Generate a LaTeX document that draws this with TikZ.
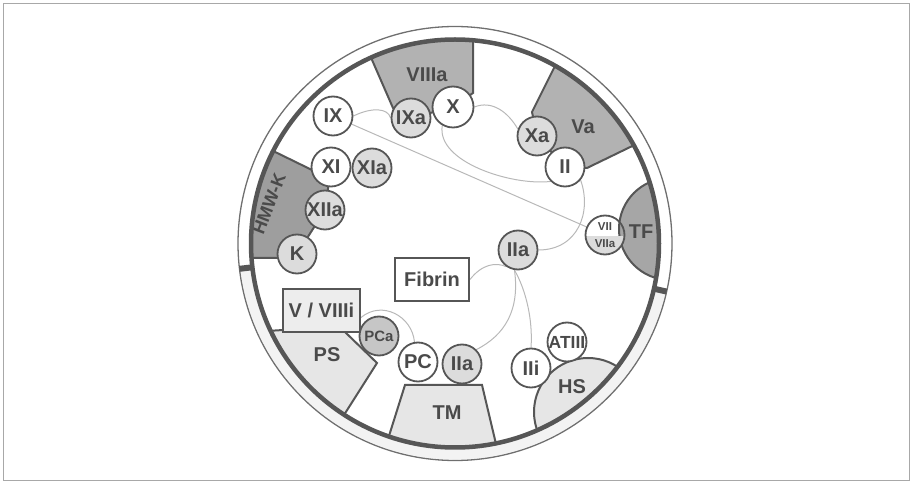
\documentclass[tikz,border=0pt]{standalone}
\usepackage{fontspec}
\setsansfont{Liberation Sans}
\usetikzlibrary{calc}
\definecolor{ink}{HTML}{4A4A4A}
\definecolor{edgec}{HTML}{565656}
\definecolor{wirec}{HTML}{B8B8B8}
\definecolor{paleC}{HTML}{E6E6E6}
\definecolor{activeC}{HTML}{DCDCDC}
\definecolor{mediumC}{HTML}{B2B2B2}
\definecolor{deepC}{HTML}{9E9E9E}
\definecolor{tfC}{HTML}{A6A6A6}
\definecolor{pcaC}{HTML}{C6C6C6}
\definecolor{boxC}{HTML}{EDEDED}
\definecolor{frameC}{HTML}{A8A8A8}
\definecolor{bandC}{HTML}{F3F3F3}
\pgfdeclarelayer{back}
\pgfdeclarelayer{mid}
\pgfsetlayers{back,mid,main}
\tikzset{
  lbl/.style={font=\sffamily\bfseries\fontsize{20}{20}\selectfont, text=ink},
  factor/.style={circle, draw=edgec, line width=1.8pt, minimum size=39pt,
                 inner sep=0pt, fill=white, lbl},
  active/.style={factor, fill=activeC},
  region/.style={draw=edgec, line width=2pt},
  labbox/.style={draw=edgec, line width=2pt, inner sep=0pt, lbl},
  wire/.style={draw=wirec, line width=1pt},
}
\begin{document}
\begin{tikzpicture}[x=1pt,y=-1pt]
\useasboundingbox (0,0) rectangle (914,486);
\coordinate (O) at (455,243.5);

% outer frame
\draw[frameC, line width=1pt] (3,3.5) rectangle (909,481);

% factors on the cell surface
\node[factor] (ix)   at (333,116) {IX};
\node[active] (ixa)  at (411,118) {IXa};
\node[factor, minimum size=41pt] (x) at (453,107) {X};
\node[active] (xa)   at (537,136) {Xa};
\node[factor] (ii)   at (565,167) {II};
\node[factor] (xi)   at (331,167) {XI};
\node[active] (xia)  at (372,168) {XIa};
\node[active] (xiia) at (325,210) {XIIa};
\node[active] (k)    at (297,254) {K};
\node[active] (iia)  at (518,250) {IIa};
\node[factor, fill=pcaC, font=\sffamily\bfseries\fontsize{15}{15}\selectfont] (pca) at (379,336) {PCa};
\node[factor] (pc)   at (418,362) {PC};
\node[active] (iib)  at (462,364) {IIa};
\node[factor] (iii)  at (531,368) {IIi};
\node[factor, font=\sffamily\bfseries\fontsize{17.5}{17.5}\selectfont] (at3) at (567,342) {ATIII};

% VII / VIIa, lower half shaded
\begin{scope}
  \clip (605,235) circle (19.5);
  \fill[activeC] (580,236) rectangle (630,260);
\end{scope}
\node[factor, fill=none] (vii) at (605,235) {};
\node[lbl, font=\sffamily\bfseries\fontsize{11.5}{11.5}\selectfont] (viit) at ([yshift=8.5pt]vii.center) {VII};
\node[lbl, font=\sffamily\bfseries\fontsize{11.5}{11.5}\selectfont] (viiat) at ([yshift=-9pt]vii.center) {VIIa};

% boxes
\node[labbox, fill=white, minimum width=74pt, minimum height=43pt] (fib) at (432,279.5) {Fibrin};
\node[labbox, fill=boxC, minimum width=77pt, minimum height=43pt] (vb) at (321.5,310.5) {V / VIIIi};

% shaded membrane regions, clipped to the cell
\begin{pgfonlayer}{back}
\begin{scope}
  \clip (O) circle (204);
  \filldraw[region, fill=mediumC] (352,14) -- (393,108) -- (411,118) -- (453,107) -- (473,93) -- (473,0) -- cycle;
  \filldraw[region, fill=mediumC] (578,20) -- (532,112) -- (537,136) -- (565,167) -- (587,168) -- (690,118) -- (690,20) -- cycle;
  \filldraw[region, fill=deepC] (220,125) -- (312,170) -- (331,167) -- (325,210) -- (297,254) -- (278,258) -- (220,258) -- cycle;
  \filldraw[region, fill=tfC] (670,229) circle (51);
  \filldraw[region, fill=paleC] (588,412) circle (54);
  \filldraw[region, fill=paleC] (220,334) -- (283,330) -- (345,332) -- (377,363) -- (330,437) -- (220,437) -- cycle;
  \filldraw[region, fill=paleC] (405,385) -- (482,385) -- (501,465) -- (383,455) -- cycle;
\end{scope}
\end{pgfonlayer}

% region labels
\node[lbl] (lviiia) at (427,75) {VIIIa};
\node[lbl] (lva) at (583,127) {Va};
\node[lbl] (ltf) at (641,232) {TF};
\node[lbl, rotate=69, inner sep=0pt, font=\sffamily\bfseries\fontsize{18}{18}\selectfont] (lhmwk) at (269,204) {HMW-K};
\node[lbl] (lps) at (327,355) {PS};
\node[lbl] (ltm) at (447,413) {TM};
\node[lbl] (lhs) at (572,387) {HS};

% reaction paths
\begin{pgfonlayer}{mid}
  \draw[wire] (ix.east) .. controls (372,107) and (388,108) .. (ixa.west);
  \draw[wire] (ix) -- (vii);
  \draw[wire] (x.east) .. controls (492,100) and (508,112) .. (xa.160);
  \draw[wire] (x.-120) .. controls (436,162) and (512,186) .. (ii.-135);
  \draw[wire] (ii.-40) .. controls (592,212) and (578,250) .. (iia.east);
  \draw[wire] (fib.east) .. controls (482,264) and (496,262) .. (iia.-125);
  \draw[wire] (iia.-100) .. controls (520,310) and (505,335) .. (iib.45);
  \draw[wire] (iia.-100) .. controls (526,290) and (533,320) .. (iii.north);
  \draw[wire] ([yshift=-7pt]vb.east) .. controls (382,300) and (412,316) .. (pc.100);
\end{pgfonlayer}

% cell wall
\begin{pgfonlayer}{back}
  \draw[bandC, line width=11pt] ([shift={(12.8:210.5)}]O) arc[start angle=12.8, end angle=173.3, radius=210.5];
\end{pgfonlayer}
\draw[edgec, line width=4.5pt] (O) circle (204);
\draw[edgec!85, line width=1.3pt] (O) circle (217);
\draw[edgec, line width=6pt] ([shift={(173.3:204)}]O) -- ([shift={(173.3:217)}]O);
\draw[edgec, line width=6pt] ([shift={(12.8:204)}]O) -- ([shift={(12.8:217)}]O);
\end{tikzpicture}
\end{document}
